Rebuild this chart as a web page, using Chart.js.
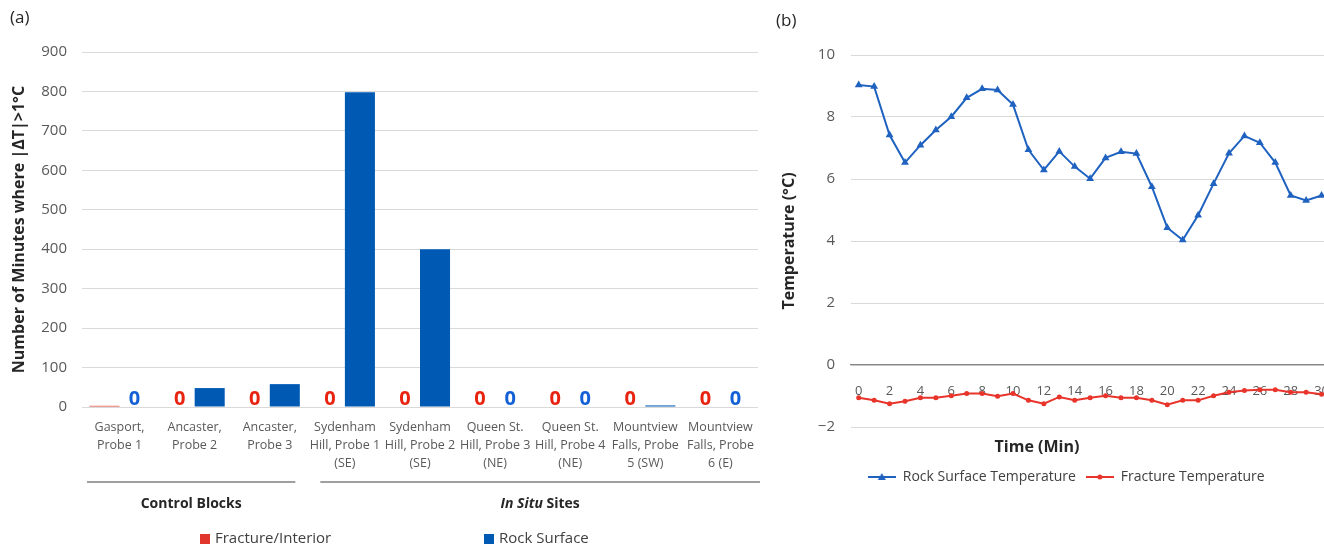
<!DOCTYPE html>
<html><head><meta charset="utf-8">
<script src="https://cdn.jsdelivr.net/npm/chart.js@4.4.1/dist/chart.umd.min.js"></script>
<style>
html,body{margin:0;padding:0;width:1324px;height:548px;overflow:hidden;background:#fff;}
#wa{position:absolute;left:0;top:0;width:770px;height:548px;}
#wb{position:absolute;left:770px;top:0;width:600px;height:548px;}
.lbl{position:absolute;font-family:"Open Sans",sans-serif;color:#262626;white-space:nowrap;}
</style></head><body>
<div id="wa"><canvas id="ca"></canvas></div>
<div id="wb"><canvas id="cb"></canvas></div>
<div class="lbl" style="left:10px;top:7px;font-size:17px;line-height:20px;">(a)</div>
<div class="lbl" style="left:776px;top:10px;font-size:17px;line-height:20px;">(b)</div>
<div class="lbl" style="left:937px;top:436px;width:200px;text-align:center;font-size:16px;line-height:20px;font-weight:bold;">Time (Min)</div>
<script>
// ---------- Data (a) ----------
const sites = [
  ['Gasport,', 'Probe 1'],
  ['Ancaster,', 'Probe 2'],
  ['Ancaster,', 'Probe 3'],
  ['Sydenham', 'Hill, Probe 1', '(SE)'],
  ['Sydenham', 'Hill, Probe 2', '(SE)'],
  ['Queen St.', 'Hill, Probe 3', '(NE)'],
  ['Queen St.', 'Hill, Probe 4', '(NE)'],
  ['Mountview', 'Falls, Probe', '5 (SW)'],
  ['Mountview', 'Falls, Probe', '6 (E)']
];
const fractureMinutes = [3, 0, 0, 0, 0, 0, 0, 0, 0];
const rockMinutes = [0, 48, 58, 798, 400, 0, 0, 4, 0];
const siteGroups = [
  { name: 'Control Blocks', italic: '', from: 0, to: 2 },
  { name: ' Sites', italic: 'In Situ', from: 3, to: 8 }
];

// ---------- Data (b) ----------
const minutes = ['0','1','2','3','4','5','6','7','8','9','10','11','12','13','14','15','16','17','18','19','20','21','22','23','24','25','26','27','28','29','30','31','32'];
const rockTemp = [9.03, 8.98, 7.42, 6.53, 7.09, 7.58, 8.01, 8.62, 8.91, 8.87, 8.40, 6.94, 6.29, 6.89, 6.40, 6.01, 6.68, 6.88, 6.82, 5.75, 4.43, 4.03, 4.83, 5.85, 6.83, 7.39, 7.17, 6.53, 5.47, 5.31, 5.47];
const fractureTemp = [-1.06, -1.14, -1.25, -1.17, -1.06, -1.06, -0.99, -0.92, -0.92, -1.01, -0.92, -1.14, -1.25, -1.03, -1.14, -1.06, -0.99, -1.06, -1.06, -1.14, -1.28, -1.14, -1.14, -0.99, -0.88, -0.82, -0.80, -0.80, -0.88, -0.88, -0.94];

Chart.defaults.font.family = '"Open Sans", sans-serif';
Chart.defaults.animation = false;

const RED = '#e0362c', BLUE = '#005ab4';

// zero value labels drawn at bar positions
const zeroLabels = {
  id: 'zeroLabels',
  afterDatasetsDraw(chart) {
    const ctx = chart.ctx;
    const y0 = chart.scales.y.getPixelForValue(0);
    chart.data.datasets.forEach((ds, di) => {
      const meta = chart.getDatasetMeta(di);
      meta.data.forEach((el, i) => {
        if (ds.data[i] === 0) {
          ctx.save();
          ctx.font = 'bold 20px "Open Sans", sans-serif';
          ctx.fillStyle = ds.zeroColor;
          ctx.textAlign = 'center';
          ctx.textBaseline = 'alphabetic';
          ctx.fillText('0', el.x, y0 - 2);
          ctx.restore();
        }
      });
    });
  }
};

// group brackets, group names and legend for (a)
const groupsAndLegend = {
  id: 'groupsAndLegend',
  afterDraw(chart) {
    const ctx = chart.ctx, xs = chart.scales.x;
    const w = xs.getPixelForValue(1) - xs.getPixelForValue(0);
    const insets = [[5, -12], [13, 2]];
    siteGroups.forEach((g, gi) => {
      const l = xs.getPixelForValue(g.from) - w / 2 + insets[gi][0];
      const r = xs.getPixelForValue(g.to) + w / 2 + insets[gi][1];
      ctx.save();
      ctx.strokeStyle = '#7f7f7f';
      ctx.lineWidth = 1.5;
      ctx.beginPath(); ctx.moveTo(l, 482); ctx.lineTo(r, 482); ctx.stroke();
      const cx = (l + r) / 2;
      ctx.fillStyle = '#262626';
      ctx.textBaseline = 'middle';
      ctx.font = 'italic bold 14px "Open Sans", sans-serif';
      const wi = g.italic ? ctx.measureText(g.italic).width : 0;
      ctx.font = 'bold 14px "Open Sans", sans-serif';
      const wn = ctx.measureText(g.name).width;
      let x = cx - (wi + wn) / 2;
      ctx.textAlign = 'left';
      if (g.italic) {
        ctx.font = 'italic bold 14px "Open Sans", sans-serif';
        ctx.fillText(g.italic, x, 504);
        x += wi;
      }
      ctx.font = 'bold 14px "Open Sans", sans-serif';
      ctx.fillText(g.name, x, 504);
      ctx.restore();
    });
    // legend
    const items = chart.data.datasets.map(ds => ({ text: ds.label, color: ds.backgroundColor }));
    const starts = [200, 484];
    ctx.save();
    ctx.font = '15px "Open Sans", sans-serif';
    ctx.textBaseline = 'middle';
    ctx.textAlign = 'left';
    items.forEach((it, i) => {
      ctx.fillStyle = it.color;
      ctx.fillRect(starts[i], 534, 10, 10);
      ctx.fillStyle = '#404040';
      ctx.fillText(it.text, starts[i] + 15, 539);
    });
    ctx.restore();
  }
};

new Chart(document.getElementById('ca'), {
  type: 'bar',
  data: {
    labels: sites,
    datasets: [
      { label: 'Fracture/Interior', data: fractureMinutes, backgroundColor: RED, zeroColor: '#e8230f', categoryPercentage: 0.8, barPercentage: 1 },
      { label: 'Rock Surface', data: rockMinutes, backgroundColor: BLUE, zeroColor: '#1360d6', categoryPercentage: 0.8, barPercentage: 1 }
    ]
  },
  options: {
    responsive: true,
    maintainAspectRatio: false,
    layout: { padding: { top: 52, right: 12, left: 0, bottom: 0 } },
    plugins: { legend: { display: false }, tooltip: { enabled: false } },
    scales: {
      x: {
        grid: { display: false },
        border: { display: false },
        ticks: { padding: 3, color: '#595959', font: { size: 12.5, lineHeight: 1.45 }, maxRotation: 0, autoSkip: false },
        afterFit(s) { s.height = 141; }
      },
      y: {
        min: 0, max: 900,
        ticks: { stepSize: 100, padding: 15, color: '#595959', font: { size: 15 } },
        grid: { color: '#d9d9d9', drawTicks: false },
        border: { display: false },
        title: { display: true, text: 'Number of Minutes where |ΔT|>1°C', color: '#262626', font: { size: 16, weight: 'bold' }, padding: { top: 10, bottom: 0 } },
        afterFit(s) { s.width = 82; }
      }
    }
  },
  plugins: [zeroLabels, groupsAndLegend]
});

// ---------- (b) ----------
function legendIcon(color, marker) {
  const c = document.createElement('canvas');
  c.width = 28; c.height = 12;
  const g = c.getContext('2d');
  g.strokeStyle = color; g.fillStyle = color; g.lineWidth = 2;
  g.beginPath(); g.moveTo(0, 6); g.lineTo(28, 6); g.stroke();
  g.beginPath();
  if (marker === 'triangle') { g.moveTo(14, 2); g.lineTo(18, 9); g.lineTo(10, 9); g.closePath(); }
  else { g.arc(14, 6, 2.5, 0, Math.PI * 2); }
  g.fill();
  return c;
}
const ROCKLINE = '#1f62c0', FRACLINE = '#e8342b';
const icons = [legendIcon(ROCKLINE, 'triangle'), legendIcon(FRACLINE, 'circle')];

new Chart(document.getElementById('cb'), {
  type: 'line',
  data: {
    labels: minutes,
    datasets: [
      { label: 'Rock Surface Temperature', data: rockTemp, borderColor: ROCKLINE, backgroundColor: ROCKLINE, borderWidth: 2, pointStyle: 'triangle', pointRadius: 4.5, pointBorderWidth: 0, tension: 0 },
      { label: 'Fracture Temperature', data: fractureTemp, borderColor: FRACLINE, backgroundColor: FRACLINE, borderWidth: 2, pointStyle: 'circle', pointRadius: 2.5, pointBorderWidth: 0, tension: 0 }
    ]
  },
  options: {
    responsive: true,
    maintainAspectRatio: false,
    layout: { padding: { top: 55, right: 7.5, left: 0, bottom: 54 } },
    plugins: {
      tooltip: { enabled: false },
      legend: {
        position: 'bottom',
        labels: {
          usePointStyle: true, pointStyleWidth: 28, padding: 10,
          color: '#404040', font: { size: 14 },
          generateLabels(chart) {
            return chart.data.datasets.map((ds, i) => ({ text: ds.label, pointStyle: icons[i], fillStyle: ds.borderColor, strokeStyle: ds.borderColor, lineWidth: 0, hidden: false, datasetIndex: i, fontColor: '#404040' }));
          }
        }
      }
    },
    scales: {
      x: {
        position: { y: 0 },
        offset: true,
        grid: { display: false },
        border: { display: true, color: '#878787', width: 1.2 },
        ticks: {
          autoSkip: false, maxRotation: 0, padding: 10, color: '#595959', font: { size: 13 },
          callback(v, i) { return i % 2 === 0 ? this.getLabelForValue(v) : ''; }
        }
      },
      xGap: {
        type: 'category', position: 'bottom',
        grid: { display: false }, border: { display: false }, ticks: { display: false },
        afterFit(s) { s.height = 33; }
      },
      y: {
        min: -2, max: 10,
        ticks: { stepSize: 2, padding: 16, color: '#595959', font: { size: 15 }, callback: v => v < 0 ? '\u2212' + Math.abs(v) : String(v) },
        grid: { color: '#d9d9d9', drawTicks: false },
        border: { display: false },
        title: { display: true, text: 'Temperature (°C)', color: '#262626', font: { size: 16, weight: 'bold' }, padding: { top: 10, bottom: 0 } },
        afterFit(s) { s.width = 81; }
      }
    }
  }
});
</script>
</body></html>
